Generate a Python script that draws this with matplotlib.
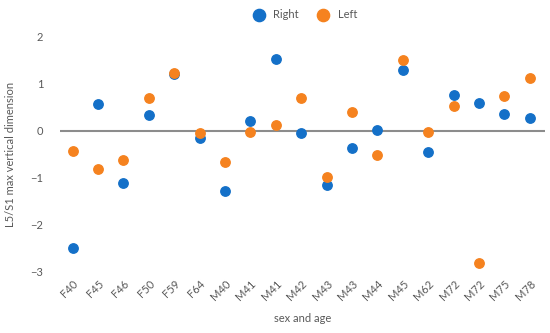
import matplotlib.pyplot as plt

labels = ['F40', 'F45', 'F46', 'F50', 'F59', 'F64', 'M40', 'M41', 'M41', 'M42',
          'M43', 'M43', 'M44', 'M45', 'M62', 'M72', 'M72', 'M75', 'M78']
right = [-2.5, 0.56, -1.11, 0.34, 1.2, -0.15, -1.3, 0.2, 1.54, -0.05,
         -1.17, -0.37, 0.01, 1.3, -0.46, 0.77, 0.6, 0.36, 0.27]
left = [-0.43, -0.81, -0.62, 0.69, 1.24, -0.06, -0.68, -0.03, 0.13, 0.69,
        -1.0, 0.4, -0.53, 1.5, -0.04, 0.52, -2.83, 0.74, 1.13]

plt.rcParams['font.family'] = ['Lato', 'DejaVu Sans']
txt = '#595959'

fig = plt.figure(figsize=(5.5, 3.33), dpi=100)
ax = fig.add_axes([0.109, 0.186, 0.882, 0.703])

x = range(len(labels))
ax.axhline(0, color='#8c8c8c', lw=1.5, zorder=1)
ax.scatter(x, right, s=46, color='#1470c8', label='Right', zorder=3, clip_on=False)
ax.scatter(x, left, s=46, color='#f5821f', label='Left', zorder=3, clip_on=False)

ax.set_xlim(-0.5, 18.6)
ax.set_ylim(-3, 2)
ax.set_yticks([-3, -2, -1, 0, 1, 2])
ax.set_xticks(list(x))
ax.set_xticklabels(labels, rotation=45, ha='right', rotation_mode='anchor')
ax.tick_params(length=0, colors=txt, labelsize=8)
ax.tick_params(axis='y', pad=12)
ax.tick_params(axis='x', pad=5)
for s in ax.spines.values():
    s.set_visible(False)

ax.set_ylabel('L5/S1 max vertical dimension', color=txt, fontsize=8, labelpad=10)
ax.set_xlabel('sex and age', color=txt, fontsize=8, labelpad=8)

ax.legend(loc='lower center', bbox_to_anchor=(0.5, 1.03), ncol=2, frameon=False,
          fontsize=8, labelcolor=txt, handletextpad=0.3, columnspacing=1.2,
          markerscale=1.3)

fig.savefig('out.png', dpi=100)
